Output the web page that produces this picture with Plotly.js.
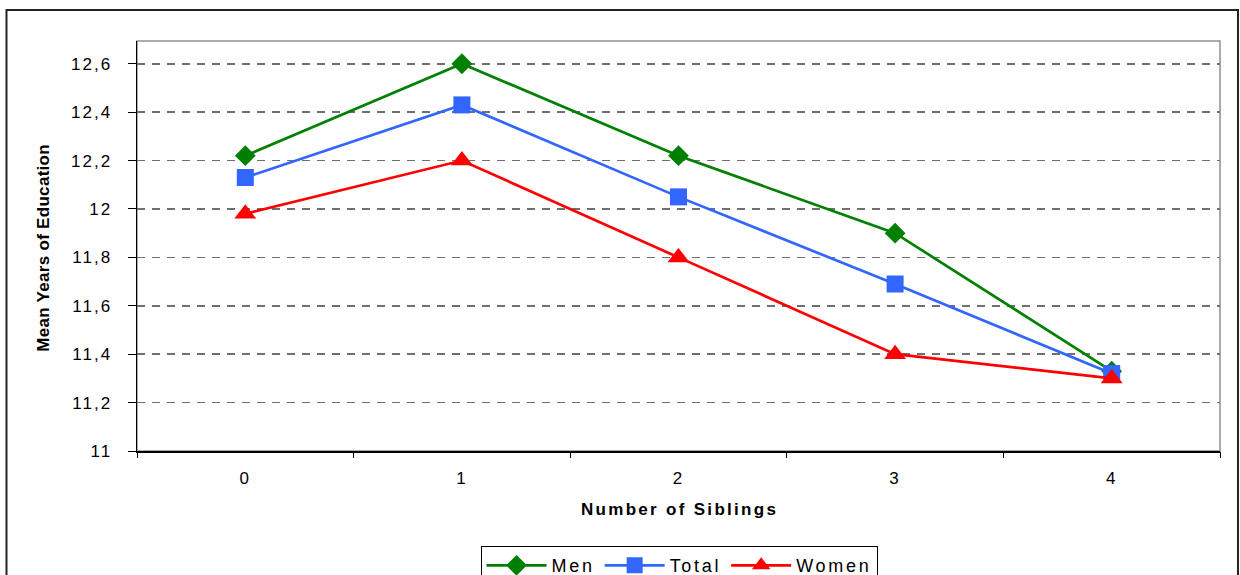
<!DOCTYPE html>
<html>
<head>
<meta charset="utf-8">
<script src="https://cdn.plot.ly/plotly-3.0.1.min.js"></script>
<style>
html,body{margin:0;padding:0;background:#fff;}
#chart{width:1240px;height:575px;}
.xtick text,.ytick text{letter-spacing:2px;}
.annotation-text{letter-spacing:0.3px;}
.xtitle-ann .annotation-text{letter-spacing:2.3px;}
.legendtext{letter-spacing:2.7px;}
</style>
</head>
<body>
<div id="chart"></div>
<script>
const siblings = [0, 1, 2, 3, 4];
const menValues = [12.22, 12.60, 12.22, 11.90, 11.33];
const totalValues = [12.13, 12.43, 12.05, 11.69, 11.32];
const womenValues = [11.98, 12.20, 11.80, 11.40, 11.30];
const yTicks = [11, 11.2, 11.4, 11.6, 11.8, 12, 12.2, 12.4, 12.6];
const xBoundaries = [-0.5, 0.5, 1.5, 2.5, 3.5, 4.5];

const font = "Liberation Sans, Arial, sans-serif";

const traces = [
  {x: siblings, y: menValues, name: 'Men', type: 'scatter', mode: 'lines+markers',
   line: {color: '#008000', width: 2.7}, marker: {symbol: 'diamond', size: 16, color: '#008000'}},
  {x: siblings, y: totalValues, name: 'Total', type: 'scatter', mode: 'lines+markers',
   line: {color: '#3366FF', width: 2.7}, marker: {symbol: 'square', size: 17, color: '#3366FF'}},
  {x: siblings, y: womenValues, name: 'Women', type: 'scatter', mode: 'lines+markers',
   line: {color: '#FF0000', width: 2.7}, marker: {symbol: 'triangle-up', size: 19, color: '#FF0000'}},
  {x: [xBoundaries[0]], y: [11], xaxis: 'x2', type: 'scatter', mode: 'markers',
   marker: {opacity: 0}, showlegend: false, hoverinfo: 'skip'}
];

const layout = {
  width: 1240, height: 575,
  margin: {l: 137, r: 20, t: 41, b: 124, autoexpand: false},
  paper_bgcolor: '#ffffff', plot_bgcolor: '#ffffff',
  separators: ', ',
  font: {family: font, color: '#000'},
  showlegend: true,
  legend: {orientation: 'h', x: 0.5005, xanchor: 'center', y: -0.232, yanchor: 'top',
    bordercolor: '#000', borderwidth: 1, font: {size: 18, family: font},
    itemwidth: 60, tracegroupgap: 0},
  xaxis: {range: [-0.5, 4.5], tickvals: siblings, ticktext: siblings.map(String),
    ticks: '', showgrid: false, zeroline: false, showline: true, linecolor: '#000', linewidth: 1.5,
    tickfont: {size: 17, family: font}, ticklabelstandoff: 11, fixedrange: true},
  xaxis2: {overlaying: 'x', range: [-0.5, 4.5], tickvals: xBoundaries, showticklabels: false,
    ticks: 'outside', ticklen: 6, tickcolor: '#000', tickwidth: 1, showgrid: false,
    zeroline: false, showline: false, side: 'bottom'},
  yaxis: {range: [11, 12.694], tickvals: yTicks, ticks: 'outside', ticklen: 8, tickcolor: '#000',
    showgrid: true, gridcolor: '#707070', griddash: '8px,7px', gridwidth: 1.5,
    zeroline: false, showline: true, linecolor: '#000', linewidth: 1.5,
    tickfont: {size: 17, family: font}, ticklabelstandoff: 12, fixedrange: true},
  shapes: [
    {type: 'rect', xref: 'paper', yref: 'paper', x0: 0, x1: 1, y0: 0, y1: 1,
     line: {color: '#909090', width: 1.5}, layer: 'below'},
    {type: 'rect', xref: 'paper', yref: 'paper', x0: -0.1205, x1: 1.0166, y0: -0.5, y1: 1.0756,
     line: {color: '#222', width: 2}, layer: 'below'}
  ],
  annotations: [
    {text: '<b>Mean Years of Education</b>', xref: 'paper', yref: 'paper', x: -0.087, y: 0.495,
     xanchor: 'center', yanchor: 'middle', textangle: -90, showarrow: false,
     font: {size: 17, family: font}},
    {text: '<b>Number of Siblings</b>', xref: 'paper', yref: 'paper', x: 0.5005, y: -0.143,
     xanchor: 'center', yanchor: 'middle', showarrow: false, font: {size: 17, family: font},
     name: 'xtitle'}
  ]
};

Plotly.newPlot('chart', traces, layout, {displayModeBar: false, staticPlot: true}).then(function () {
  const anns = document.querySelectorAll('.annotation');
  if (anns.length > 1) anns[1].classList.add('xtitle-ann');
});
</script>
</body>
</html>
